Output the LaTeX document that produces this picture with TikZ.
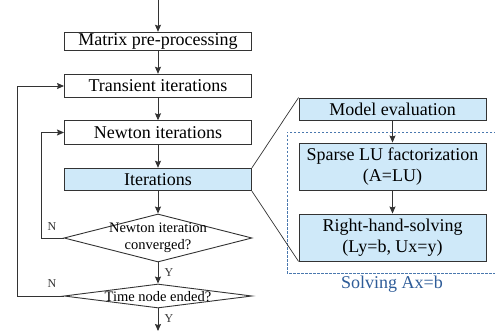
\documentclass[tikz,border=0pt]{standalone}
\usepackage{fontspec}
\setmainfont{Liberation Serif}
\usetikzlibrary{arrows.meta,shapes.geometric}
\definecolor{boxfill}{HTML}{CFE9F9}
\definecolor{boxline}{HTML}{333333}
\definecolor{dashblue}{HTML}{4A78AE}
\definecolor{labblue}{HTML}{2E5C98}
\tikzset{
  flowbox/.style={draw=boxline, line width=0.9pt, minimum width=187pt, inner sep=0pt, align=center, font=\fontsize{18}{21}\selectfont},
  bluebox/.style={flowbox, fill=boxfill},
  dshape/.style={draw=boxline, line width=0.9pt, shape=diamond, inner sep=0pt, minimum width=188pt},
  dtext/.style={align=center, inner sep=0pt, font=\fontsize{14.5}{17}\selectfont},
  yn/.style={inner sep=0pt, font=\fontsize{12}{12}\selectfont, text=boxline},
  arr/.style={line width=0.9pt, draw=boxline, -{Stealth[length=7pt,width=6pt,inset=1pt]}},
  conn/.style={line width=0.7pt, draw=boxline},
}
\begin{document}
\begin{tikzpicture}[x=1pt,y=-1pt]
\useasboundingbox (0,0) rectangle (495,331);
% left column
\coordinate (top) at (158,0);
\node[flowbox, minimum height=18.5pt] (mat) at (158,41.5) {Matrix pre-processing};
\node[flowbox, minimum height=23.5pt] (tra) at (158,86) {Transient iterations};
\node[flowbox, minimum height=23.5pt] (new) at (158,132.5) {Newton iterations};
\node[bluebox, minimum height=22.5pt] (ite) at (158,179.5) {Iterations};
\node[dshape, minimum height=48pt] (d1) at (158,238) {};
\node[dtext] (d1t) at (158,238) {Newton iteration\\converged?};
\node[dshape, minimum height=24pt] (d2) at (158,296) {};
\node[dtext] (d2t) at (158,296.5) {Time node ended?};
\coordinate (bot) at (158,331);
\draw[arr] (top) -- (mat.north);
\draw[arr] (mat.south) -- (tra.north);
\draw[arr] (tra.south) -- (new.north);
\draw[arr] (new.south) -- (ite.north);
\draw[arr] (ite.south) -- (d1.north);
\draw[arr] (d1.south) -- (d2.north);
\draw[arr] (d2.south) -- (bot);
\coordinate (l1) at (41,238);
\coordinate (l2) at (17,296);
\draw[arr] (d1.west) -- (l1) |- (new.west);
\draw[arr] (d2.west) -- (l2) |- (tra.west);
\node[yn] (n1) at (52,227) {N};
\node[yn] (n2) at (52,284) {N};
\node[yn] (y1) at (169,273) {Y};
\node[yn] (y2) at (169,319) {Y};
% right column
\draw[dashblue, line width=0.8pt, dash pattern=on 2.5pt off 1.5pt] (496,132) -- (287,132) -- (287,273) -- (496,273);
\node[bluebox, minimum height=22pt] (mod) at (392.5,109) {Model evaluation};
\node[bluebox, minimum height=47pt] (spa) at (392.5,166.5) {Sparse LU factorization\\(A=LU)};
\node[bluebox, minimum height=47pt] (rhs) at (392.5,237.5) {Right-hand-solving\\(Ly=b, Ux=y)};
\node[inner sep=0pt, text=labblue, font=\fontsize{18}{21}\selectfont] (sol) at (392,284) {Solving Ax=b};
\draw[arr] (mod.south) -- (spa.north);
\draw[arr] (spa.south) -- (rhs.north);
\draw[conn] (ite.north east) -- (mod.north west);
\draw[conn] (ite.south east) -- (rhs.south west);
\end{tikzpicture}
\end{document}
